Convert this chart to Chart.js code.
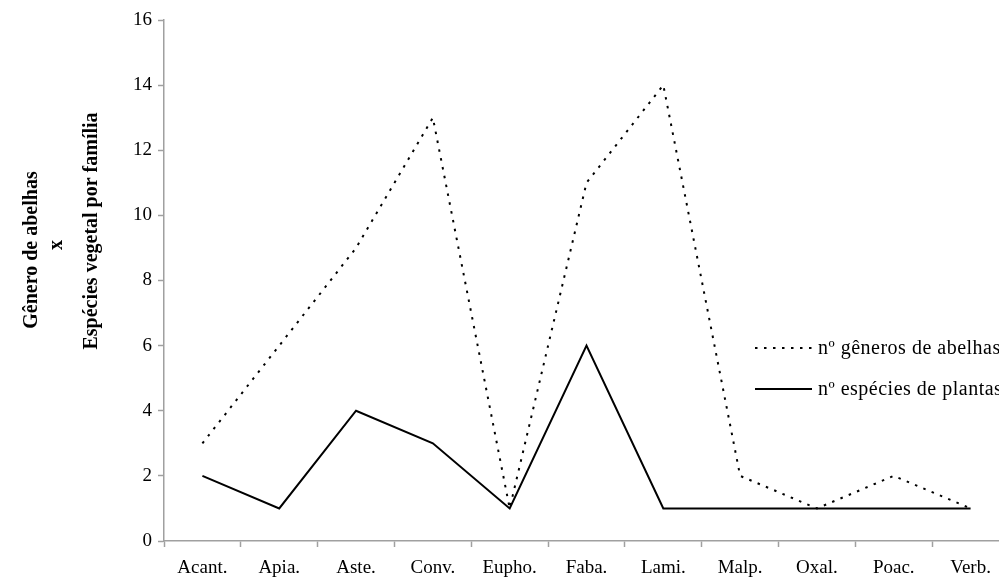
<!DOCTYPE html>
<html>
<head>
<meta charset="utf-8">
<script src="https://cdn.jsdelivr.net/npm/chart.js@4.4.1/dist/chart.umd.min.js"></script>
<style>
  html, body { margin: 0; padding: 0; background: #fff; overflow: hidden; }
  #wrap { width: 999px; height: 583px; overflow: hidden; position: relative; }
  canvas { display: block; }
</style>
</head>
<body>
<div id="wrap"><canvas id="c" width="1040" height="583"></canvas></div>
<script>
const categories = ['Acant.', 'Apia.', 'Aste.', 'Conv.', 'Eupho.', 'Faba.', 'Lami.', 'Malp.', 'Oxal.', 'Poac.', 'Verb.'];
const beeGenera = [3, 6, 9, 13, 1, 11, 14, 2, 1, 2, 1];
const plantSpecies = [2, 1, 4, 3, 1, 6, 1, 1, 1, 1, 1];
const seriesLabels = ['n\u00ba g\u00eaneros de abelhas', 'n\u00ba esp\u00e9cies de plantas'];
const yTitleLines = ['G\u00eanero de abelhas', 'x', 'Esp\u00e9cies vegetal por fam\u00edlia'];

const SERIF = '"Liberation Serif", "Times New Roman", serif';
const AXIS = '#a0a0a0';

const yTitlePlugin = {
  id: 'yTitle',
  afterDraw(chart) {
    const ctx = chart.ctx;
    ctx.save();
    ctx.fillStyle = '#000';
    ctx.font = 'bold 20px ' + SERIF;
    ctx.textAlign = 'center';
    ctx.textBaseline = 'alphabetic';
    const pos = [[37, 250], [62, 245], [97, 231]];
    yTitleLines.forEach((t, i) => {
      ctx.save();
      ctx.translate(pos[i][0], pos[i][1]);
      ctx.rotate(-Math.PI / 2);
      ctx.fillText(t, 0, 0);
      ctx.restore();
    });
    ctx.restore();
  }
};

const legendPlugin = {
  id: 'customLegend',
  afterDraw(chart) {
    const ctx = chart.ctx;
    const ys = [348, 389];
    ctx.save();
    chart.data.datasets.forEach((ds, i) => {
      const y = ys[i];
      ctx.beginPath();
      ctx.strokeStyle = ds.borderColor;
      ctx.lineWidth = ds.borderWidth;
      ctx.setLineDash(ds.borderDash || []);
      ctx.moveTo(755, y);
      ctx.lineTo(812, y);
      ctx.stroke();
      ctx.setLineDash([]);
      ctx.fillStyle = '#000';
      ctx.font = '20px ' + SERIF;
      if ('letterSpacing' in ctx) ctx.letterSpacing = '0.5px';
      ctx.textAlign = 'left';
      ctx.textBaseline = 'middle';
      ctx.fillText(ds.label, 818, y + 1);
      if ('letterSpacing' in ctx) ctx.letterSpacing = '0px';
    });
    ctx.restore();
  }
};

new Chart(document.getElementById('c'), {
  type: 'line',
  data: {
    labels: categories,
    datasets: [
      {
        label: seriesLabels[0],
        data: beeGenera,
        borderColor: '#000',
        borderWidth: 2,
        borderDash: [2.5, 6.5],
        pointRadius: 0,
        fill: false,
        tension: 0
      },
      {
        label: seriesLabels[1],
        data: plantSpecies,
        borderColor: '#000',
        borderWidth: 2,
        pointRadius: 0,
        fill: false,
        tension: 0
      }
    ]
  },
  options: {
    responsive: false,
    animation: false,
    devicePixelRatio: 1,
    layout: { padding: { top: 20, right: 31, bottom: 0, left: 0 } },
    plugins: {
      legend: { display: false },
      tooltip: { enabled: false },
      title: { display: false }
    },
    scales: {
      x: {
        type: 'category',
        offset: true,
        grid: {
          offset: true,
          drawOnChartArea: false,
          drawTicks: true,
          tickLength: 6,
          tickColor: AXIS,
          tickWidth: 1.5
        },
        border: { display: true, color: AXIS, width: 1.5 },
        ticks: {
          color: '#000',
          font: { family: SERIF, size: 19 },
          padding: 10,
          maxRotation: 0,
          autoSkip: false
        },
        afterFit(s) { s.height = 42; }
      },
      y: {
        min: 0,
        max: 16,
        ticks: {
          stepSize: 2,
          color: '#000',
          font: { family: SERIF, size: 19 },
          padding: 6
        },
        grid: {
          drawOnChartArea: false,
          drawTicks: true,
          tickLength: 6,
          tickColor: AXIS,
          tickWidth: 1.5
        },
        border: { display: true, color: AXIS, width: 1.5 },
        afterFit(s) { s.width = 164; }
      }
    }
  },
  plugins: [yTitlePlugin, legendPlugin]
});
</script>
</body>
</html>
